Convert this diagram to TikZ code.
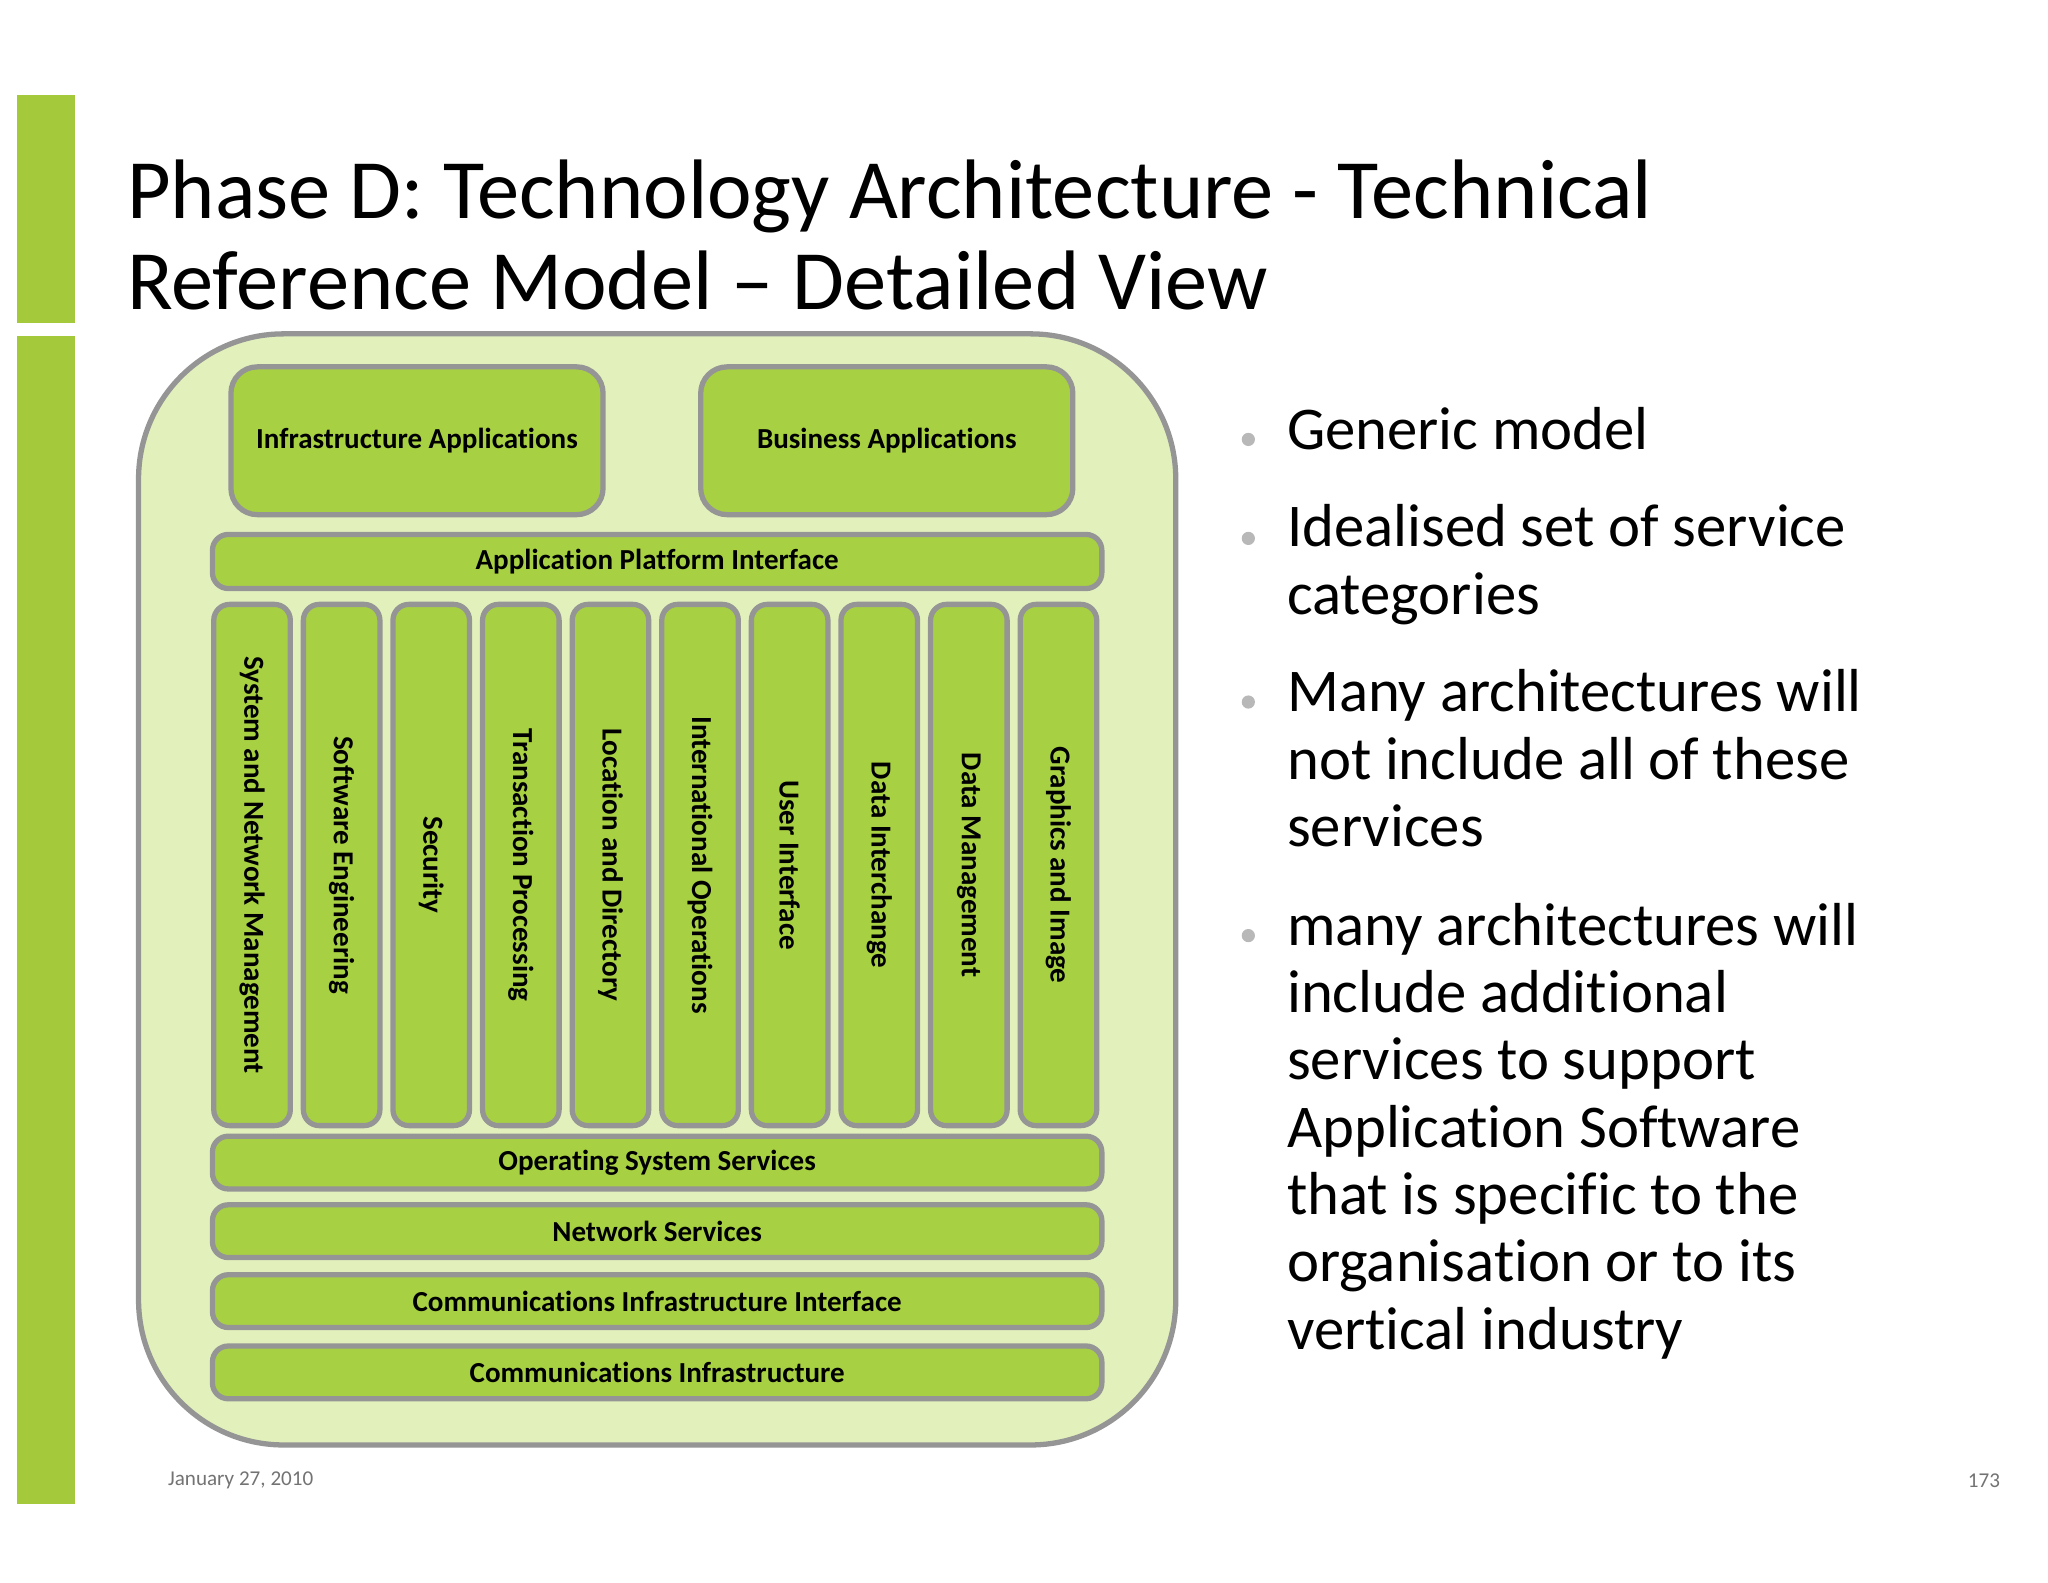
\documentclass[tikz,border=0pt]{standalone}
\usepackage{fontspec}
\setmainfont{Carlito}[RawFeature=-liga]
\definecolor{barg}{HTML}{A4C93A}
\definecolor{outerg}{HTML}{E2F1BC}
\definecolor{boxg}{HTML}{A8D043}
\definecolor{rimg}{HTML}{959595}
\begin{document}
\begin{tikzpicture}[x=0.5pt,y=-0.5pt,
  box/.style={draw=rimg,line width=2pt,fill=boxg,rounded corners=6pt},
  lbl/.style={font=\fontsize{11}{13}\selectfont\bfseries,text=black},
  bul/.style={font=\fontsize{23}{25.5}\selectfont,anchor=north west,align=flush left,text width=235pt,inner sep=0pt,execute at begin node={\hyphenpenalty=10000\relax}},
  dot/.style={circle,fill=black!28,inner sep=0pt,minimum size=5pt}]
\useasboundingbox (0,0) rectangle (1552,1199);
\fill[white] (0,0) rectangle (1552,1199);
\fill[barg] (13,72) rectangle (57,245);
\fill[barg] (13,255) rectangle (57,1140);
\node[anchor=west,inner sep=0pt,align=left,font=\fontsize{32}{34.5}\selectfont] (title) at (96,178)
 {Phase D: Technology Architecture - Technical\\Reference Model -- Detailed View};
\draw[draw=rimg,line width=2pt,fill=outerg,rounded corners=55pt] (105,253) rectangle (891,1095);
\draw[box,rounded corners=10pt] (175,278) rectangle (457,390) node[midway,lbl] (ia) {Infrastructure Applications};
\draw[box,rounded corners=10pt] (531,278) rectangle (813,390) node[midway,lbl] (ba) {Business Applications};
\draw[box] (161,405) rectangle (835,446) node[midway,lbl] (api) {Application Platform Interface};
\foreach \t [count=\i from 0] in {System and Network Management,Software Engineering,Security,Transaction Processing,Location and Directory,International Operations,User Interface,Data Interchange,Data Management,Graphics and Image}{
  \pgfmathsetmacro{\xa}{162+\i*67.9}
  \draw[box] (\xa,458) rectangle ({\xa+58},853) node[midway,lbl,rotate=-90] (c\i) {\t};
}
\draw[box] (161,861) rectangle (835,901) node[midway,lbl] (oss) {Operating System Services};
\draw[box] (161,913) rectangle (835,953) node[midway,lbl] (ns) {Network Services};
\draw[box] (161,966) rectangle (835,1006) node[midway,lbl] (cii) {Communications Infrastructure Interface};
\draw[box] (161,1020) rectangle (835,1060) node[midway,lbl] (ci) {Communications Infrastructure};
\node[dot] (d1) at (946,333) {};
\node[bul] (b1) at (975,308) {Generic model};
\node[dot] (d2) at (946,408) {};
\node[bul] (b2) at (975,382) {Idealised set of service categories};
\node[dot] (d3) at (946,532) {};
\node[bul] (b3) at (975,507) {Many architectures will not include all of these services};
\node[dot] (d4) at (946,709) {};
\node[bul] (b4) at (975,684) {many architectures will include additional services to support Application Software that is specific to the organisation or to its vertical industry};
\node[anchor=west,inner sep=0pt,text=black!55,font=\fontsize{8}{9}\selectfont] (date) at (127,1122) {January 27, 2010};
\node[anchor=east,inner sep=0pt,text=black!55,font=\fontsize{8}{9}\selectfont] (pg) at (1516,1122) {173};
\end{tikzpicture}
\end{document}
